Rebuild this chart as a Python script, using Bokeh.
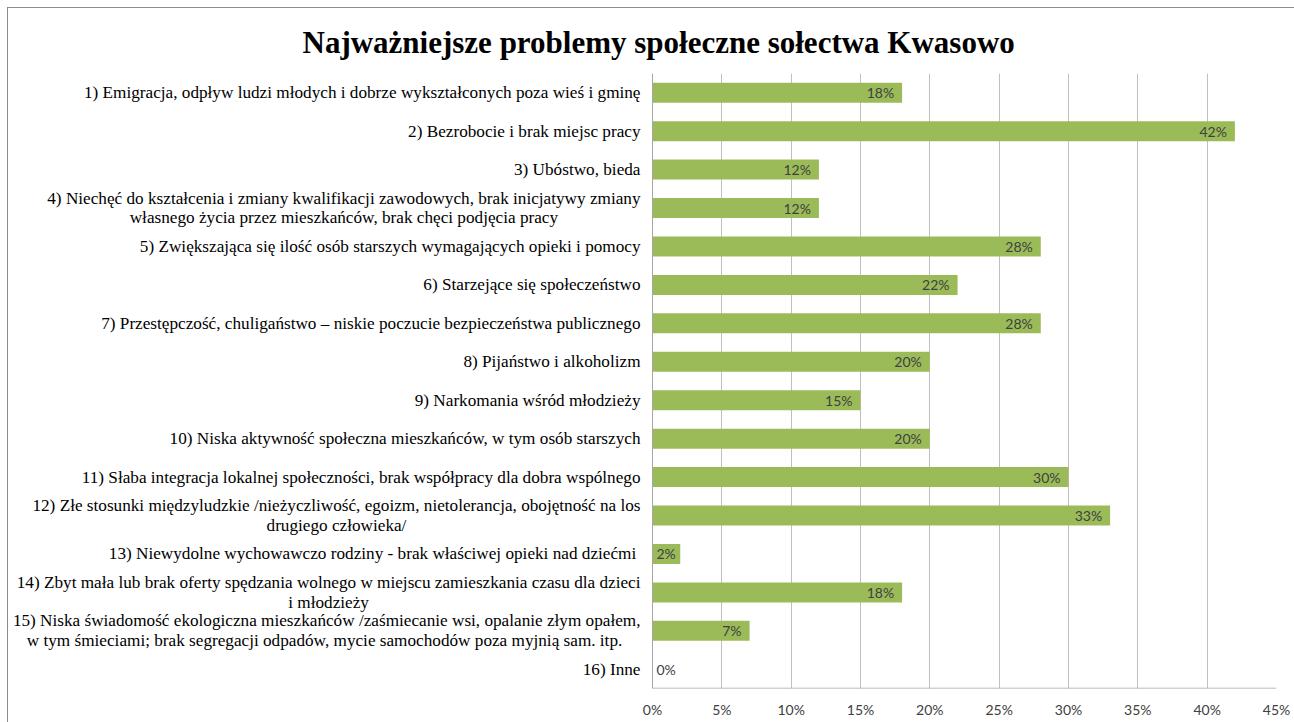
from bokeh.plotting import figure
from bokeh.models import ColumnDataSource, Range1d, FixedTicker, PrintfTickFormatter, Title, Span
from bokeh.core.properties import value
from bokeh.embed import file_html
from bokeh.resources import INLINE

title_text = "Najważniejsze problemy społeczne sołectwa Kwasowo"

categories = [
    "1) Emigracja, odpływ ludzi młodych i dobrze wykształconych poza wieś i gminę",
    "2) Bezrobocie i brak miejsc pracy",
    "3) Ubóstwo, bieda",
    "4) Niechęć do kształcenia i zmiany kwalifikacji zawodowych, brak inicjatywy zmiany\nwłasnego życia przez mieszkańców, brak chęci podjęcia pracy",
    "5) Zwiększająca się ilość osób starszych wymagających opieki i pomocy",
    "6) Starzejące się społeczeństwo",
    "7) Przestępczość, chuligaństwo – niskie poczucie bezpieczeństwa publicznego",
    "8) Pijaństwo i alkoholizm",
    "9) Narkomania wśród młodzieży",
    "10) Niska aktywność społeczna mieszkańców, w tym osób starszych",
    "11) Słaba integracja lokalnej społeczności, brak współpracy dla dobra wspólnego",
    "12) Złe stosunki międzyludzkie /nieżyczliwość, egoizm, nietolerancja, obojętność na los\ndrugiego człowieka/",
    "13) Niewydolne wychowawczo rodziny  - brak właściwej opieki nad dziećmi",
    "14) Zbyt mała lub brak oferty spędzania wolnego w miejscu zamieszkania czasu dla dzieci\ni młodzieży",
    "15) Niska świadomość ekologiczna mieszkańców /zaśmiecanie wsi, opalanie złym opałem,\nw tym śmieciami; brak segregacji odpadów, mycie samochodów poza myjnią sam.  itp.",
    "16) Inne",
]
values = [18, 42, 12, 12, 28, 22, 28, 20, 15, 20, 30, 33, 2, 18, 7, 0]
x_ticks = [0, 5, 10, 15, 20, 25, 30, 35, 40, 45]

# layout: canvas size and the left edge (px) of the bar area
W, H = 1286, 714
BORDER_R = 18
AREA_LEFT_PX = 644
frame_w = W - BORDER_R
x_max = max(x_ticks)
x_min = -x_max * AREA_LEFT_PX / (frame_w - AREA_LEFT_PX)

n = len(categories)
ypos = [n - 1 - i for i in range(n)]
labels = [f"{v}%" for v in values]
lab_x = [v if v >= 3 else 0 for v in values]
lab_align = ["right" if v >= 3 else "left" for v in values]
lab_off = [-8 if v >= 3 else 4 for v in values]
zeros = [0] * n

src = ColumnDataSource(dict(cat=categories, y=ypos, val=values, lab=labels, lx=lab_x,
                            la=lab_align, lo=lab_off, zero=zeros))

p = figure(width=W, height=H, output_backend="svg", toolbar_location=None,
           x_range=Range1d(x_min, x_max), y_range=Range1d(-0.5, n - 0.5),
           y_axis_location=None,
           min_border_left=0, min_border_right=BORDER_R, min_border_top=65, min_border_bottom=34)
p.styles = {"margin-left": "8px", "margin-top": "8px", "outline": "1px solid #8c8c8c"}
p.title = Title(text=title_text, align="left", offset=294, standoff=24, vertical_align="top",
                text_font="Liberation Serif", text_font_size="31px", text_font_style="bold",
                text_color="#000000")
p.outline_line_color = None
p.background_fill_color = "white"

p.xgrid.ticker = FixedTicker(ticks=x_ticks)
p.xgrid.grid_line_color = "#bfbfbf"
p.ygrid.grid_line_color = None

p.hbar(y="y", right="val", left=0, height=0.52, source=src, fill_color="#9BBB59", line_color=None)
p.text(x="lx", y="y", text="lab", source=src, text_align="la", x_offset="lo",
       text_baseline="middle", text_font=value("Lato"), text_font_size="14px", text_color="#404040")

# category labels (right-anchored block, centred lines)
p.text(x="zero", y="y", text="cat", source=src, anchor=value("center_right"), text_align="center",
       x_offset=-12, text_font=value("Liberation Serif"), text_font_size="17.2px",
       text_line_height=1.04, text_color="#000000")

# axis lines of the plot area
p.add_layout(Span(location=0, dimension="height", line_color="#a6a6a6", line_width=1))
p.segment(x0=[min(x_ticks)], x1=[max(x_ticks)], y0=[-0.5], y1=[-0.5], line_color="#a6a6a6", line_width=1.5)

p.xaxis.ticker = FixedTicker(ticks=x_ticks)
p.xaxis.formatter = PrintfTickFormatter(format="%d%%")
p.xaxis.major_label_text_font = "Lato"
p.xaxis.major_label_text_font_size = "14px"
p.xaxis.major_label_text_color = "#404040"
p.xaxis.major_tick_out = 0
p.xaxis.major_tick_in = 0
p.xaxis.minor_tick_out = 0
p.xaxis.minor_tick_in = 0
p.xaxis.axis_line_color = None
p.xaxis.major_label_standoff = 12

open("out.html", "w").write(file_html(p, INLINE))
